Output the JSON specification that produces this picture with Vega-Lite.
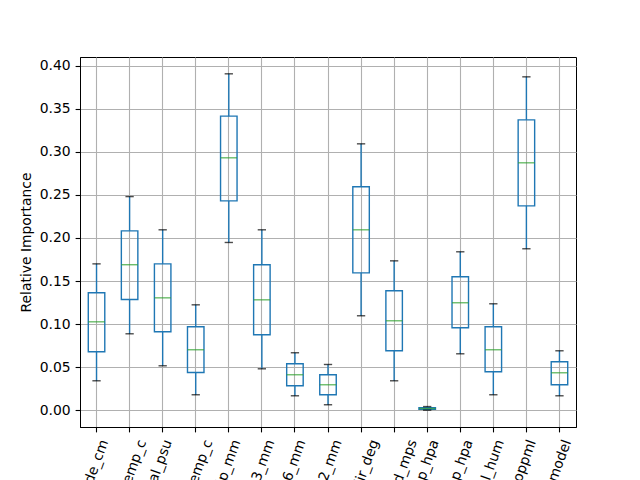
{
  "$schema": "https://vega.github.io/schema/vega-lite/v6.json",
  "width": 496,
  "height": 370,
  "autosize": {"type": "none"},
  "padding": {"left": 80, "top": 57, "right": 64, "bottom": 53},
  "background": "white",
  "data": {
    "values": [
      {"name": "tide_amplitude_cm", "lo": 0.0344, "q1": 0.068, "med": 0.1028, "q3": 0.1365, "hi": 0.170},
      {"name": "air_temp_c", "lo": 0.0889, "q1": 0.1287, "med": 0.169, "q3": 0.2083, "hi": 0.248},
      {"name": "salinity_total_psu", "lo": 0.0518, "q1": 0.0912, "med": 0.1306, "q3": 0.170, "hi": 0.2095},
      {"name": "water_temp_c", "lo": 0.0182, "q1": 0.044, "med": 0.0704, "q3": 0.097, "hi": 0.1225},
      {"name": "precip_mm", "lo": 0.1948, "q1": 0.243, "med": 0.293, "q3": 0.3413, "hi": 0.3904},
      {"name": "precip_lag3_mm", "lo": 0.0483, "q1": 0.0877, "med": 0.1283, "q3": 0.169, "hi": 0.2095},
      {"name": "precip_lag6_mm", "lo": 0.017, "q1": 0.0286, "med": 0.0414, "q3": 0.0541, "hi": 0.0669},
      {"name": "precip_lag12_mm", "lo": 0.0066, "q1": 0.0182, "med": 0.0298, "q3": 0.0414, "hi": 0.0533},
      {"name": "wind_dir_deg", "lo": 0.1098, "q1": 0.1596, "med": 0.2095, "q3": 0.2594, "hi": 0.3092},
      {"name": "wind_speed_mps", "lo": 0.0344, "q1": 0.0692, "med": 0.104, "q3": 0.1388, "hi": 0.1735},
      {"name": "sea_lvl_p_hpa", "lo": 0.0003, "q1": 0.0012, "med": 0.0022, "q3": 0.0032, "hi": 0.0045},
      {"name": "station_p_hpa", "lo": 0.0657, "q1": 0.0959, "med": 0.1249, "q3": 0.155, "hi": 0.184},
      {"name": "rel_hum", "lo": 0.0182, "q1": 0.0449, "med": 0.0704, "q3": 0.097, "hi": 0.1237},
      {"name": "dissolved_oppml", "lo": 0.1875, "q1": 0.2373, "med": 0.2872, "q3": 0.337, "hi": 0.3869},
      {"name": "tide_model", "lo": 0.017, "q1": 0.0298, "med": 0.0437, "q3": 0.0565, "hi": 0.0692}
    ]
  },
  "encoding": {
    "x": {
      "field": "name",
      "type": "nominal",
      "sort": null,
      "scale": {"paddingInner": 0, "paddingOuter": 0},
      "axis": {
        "title": null,
        "bandPosition": 0.5,
        "labelAngle": -70,
        "labelAlign": "right",
        "labelBaseline": "middle",
        "labelPadding": 8,
        "labelFontSize": 13.9,
        "labelColor": "black",
        "labelFont": "DejaVu Sans",
        "labelOverlap": false,
        "labelBound": false,
        "labelFlush": false,
        "labelOffset": {
          "condition": [
            {"test": "datum.value === 'tide_amplitude_cm'", "value": 8},
            {"test": "datum.value === 'air_temp_c'", "value": 13},
            {"test": "datum.value === 'salinity_total_psu'", "value": 5.5},
            {"test": "datum.value === 'water_temp_c'", "value": 13},
            {"test": "datum.value === 'precip_mm'", "value": 8},
            {"test": "datum.value === 'precip_lag3_mm'", "value": 9},
            {"test": "datum.value === 'precip_lag6_mm'", "value": 7},
            {"test": "datum.value === 'precip_lag12_mm'", "value": 10},
            {"test": "datum.value === 'wind_dir_deg'", "value": 14},
            {"test": "datum.value === 'wind_speed_mps'", "value": 19},
            {"test": "datum.value === 'sea_lvl_p_hpa'", "value": 8},
            {"test": "datum.value === 'station_p_hpa'", "value": 9},
            {"test": "datum.value === 'rel_hum'", "value": 7},
            {"test": "datum.value === 'dissolved_oppml'", "value": 6},
            {"test": "datum.value === 'tide_model'", "value": 8}
          ],
          "value": 8
        },
        "tickSize": 4.9,
        "tickWidth": 1.1,
        "tickColor": "black",
        "domainColor": "black",
        "domainWidth": 1,
        "grid": true,
        "gridColor": "#b0b0b0",
        "gridWidth": 1.1
      }
    }
  },
  "layer": [
    {
      "mark": {"type": "rule", "color": "#1f77b4", "strokeWidth": 1.4},
      "encoding": {
        "y": {
          "field": "lo",
          "type": "quantitative",
          "scale": {"domain": [-0.0192, 0.4099], "nice": false, "zero": false},
          "axis": {
            "title": "Relative Importance",
            "values": [0, 0.05, 0.1, 0.15, 0.2, 0.25, 0.3, 0.35, 0.4],
            "format": ".2f",
            "labelFontSize": 13.9,
            "labelColor": "black",
            "labelFont": "DejaVu Sans",
            "labelPadding": 4.9,
            "tickSize": 4.9,
            "tickWidth": 1.1,
            "tickColor": "black",
            "domainColor": "black",
            "domainWidth": 1,
            "grid": true,
            "gridColor": "#b0b0b0",
            "gridWidth": 1.1,
            "titleFont": "DejaVu Sans",
            "titleFontSize": 13.9,
            "titleFontWeight": "normal",
            "titleColor": "black",
            "titlePadding": 6
          }
        },
        "y2": {"field": "q1"}
      }
    },
    {
      "mark": {"type": "rule", "color": "#1f77b4", "strokeWidth": 1.4},
      "encoding": {
        "y": {"field": "q3", "type": "quantitative"},
        "y2": {"field": "hi"}
      }
    },
    {
      "mark": {"type": "bar", "width": 16.5, "fill": "transparent", "stroke": "#1f77b4", "strokeWidth": 1.4},
      "encoding": {
        "y": {"field": "q1", "type": "quantitative"},
        "y2": {"field": "q3"}
      }
    },
    {
      "mark": {"type": "tick", "color": "#2ca02c", "size": 16.5, "thickness": 1.4, "orient": "horizontal"},
      "encoding": {
        "y": {"field": "med", "type": "quantitative"}
      }
    },
    {
      "mark": {"type": "tick", "color": "black", "size": 8.3, "thickness": 1.4, "orient": "horizontal"},
      "encoding": {
        "y": {"field": "lo", "type": "quantitative"}
      }
    },
    {
      "mark": {"type": "tick", "color": "black", "size": 8.3, "thickness": 1.4, "orient": "horizontal"},
      "encoding": {
        "y": {"field": "hi", "type": "quantitative"}
      }
    }
  ],
  "config": {
    "font": "DejaVu Sans",
    "view": {"stroke": "black", "strokeWidth": 1}
  }
}
